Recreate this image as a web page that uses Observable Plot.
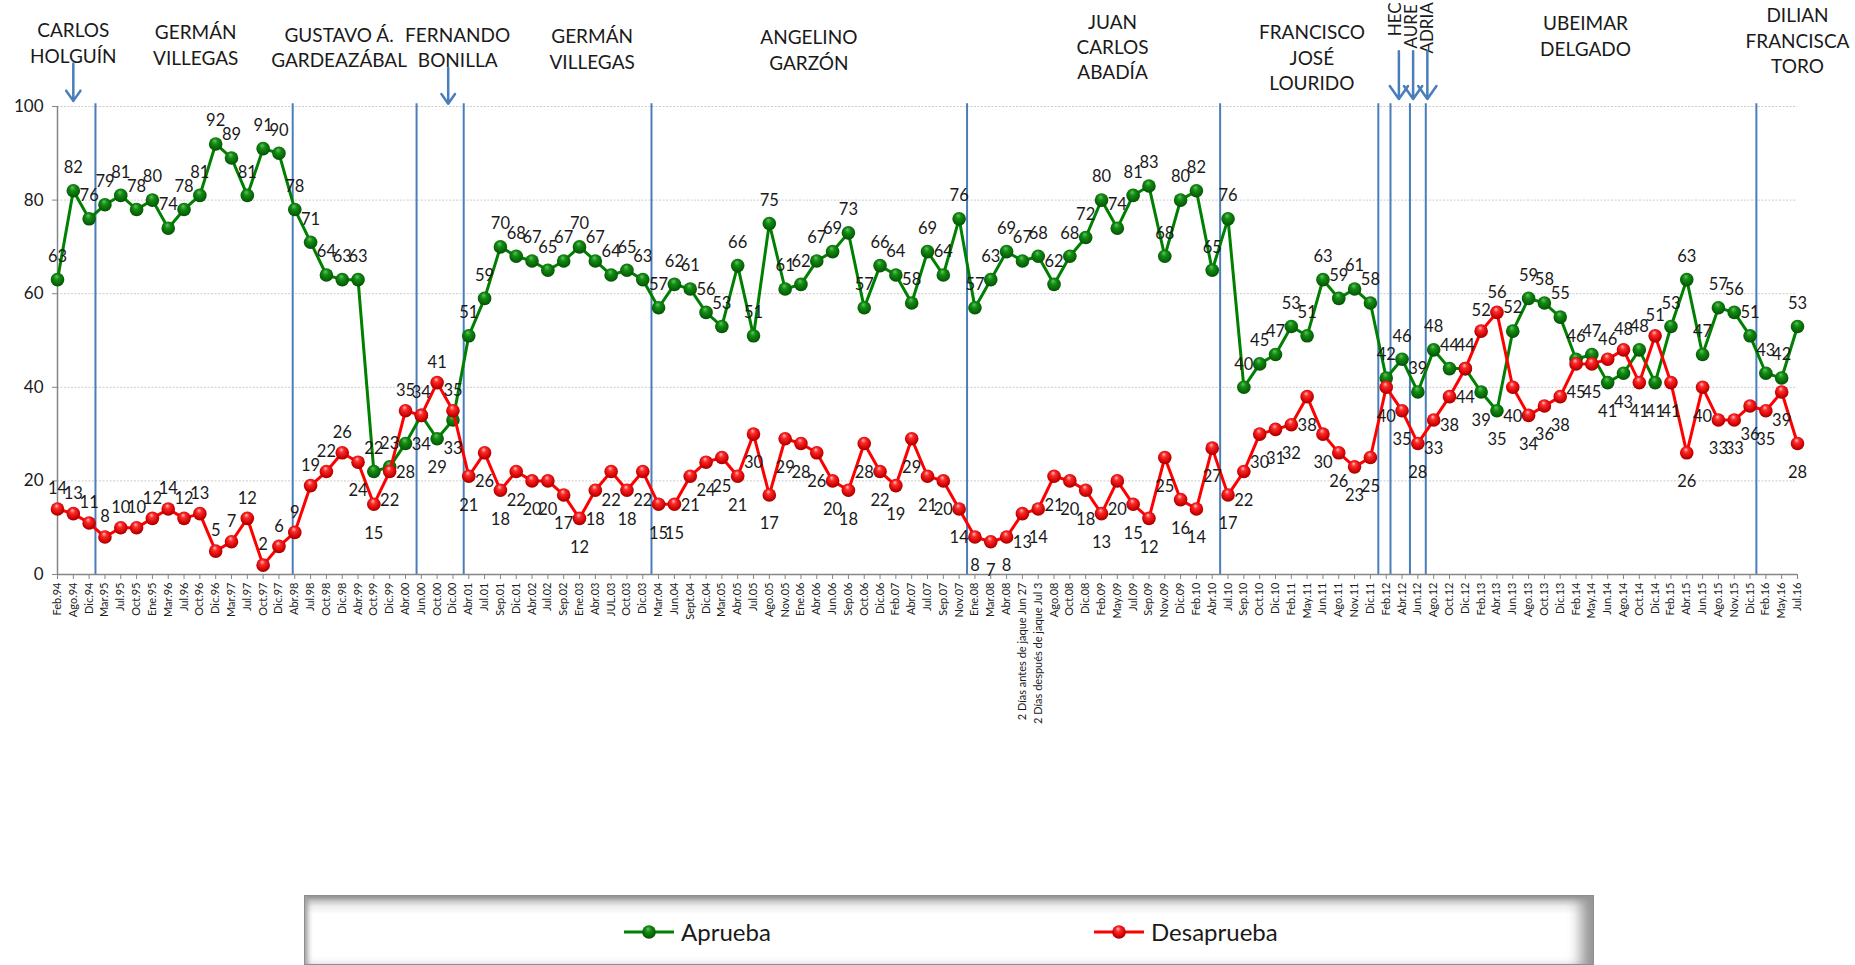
<!DOCTYPE html>
<html lang="es">
<head>
<meta charset="utf-8">
<title>Aprobación de gobernadores del Valle</title>
<script src="https://cdn.jsdelivr.net/npm/d3@7"></script>
<script src="https://cdn.jsdelivr.net/npm/@observablehq/plot@0.6"></script>
<style>
  html, body { margin: 0; padding: 0; background: #fff; overflow: hidden; }
  body { font-family: Lato, "Open Sans", sans-serif; color: #1a1a1a; }
  #marco { position: relative; width: 1855px; height: 965px; overflow: hidden; }
  #leyenda {
    position: absolute; left: 304px; top: 895px; width: 1290px; height: 70px;
    box-sizing: border-box; border: 1px solid #8e8e8e;
    background: linear-gradient(180deg, #8f8f8f 0px, #c8c8c8 5px, #ececec 10px, #ffffff 18px, #ffffff 100%);
    box-shadow: inset 6px 0 5px -3px #a0a0a0, inset -18px 0 14px -6px #959595;
  }
  .item { position: absolute; top: 24px; display: flex; align-items: center; height: 24px; }
  .item svg { display: block; margin-right: 6px; }
  .item span { font-size: 24px; line-height: 24px; color: #1a1a1a; }
</style>
</head>
<body>
<div id="marco">
  <div id="grafico"></div>
  <div id="leyenda">
    <div class="item" style="left:318px">
      <svg width="52" height="20"><line x1="1" y1="10" x2="51" y2="10" stroke="#008000" stroke-width="3"/><circle cx="26" cy="10" r="6.8" fill="url(#bolaVerde)"/></svg>
      <span>Aprueba</span>
    </div>
    <div class="item" style="left:788px">
      <svg width="52" height="20"><line x1="1" y1="10" x2="51" y2="10" stroke="#ff0000" stroke-width="3"/><circle cx="26" cy="10" r="6.8" fill="url(#bolaRoja)"/></svg>
      <span>Desaprueba</span>
    </div>
  </div>
</div>
<script>
// Fechas de cada encuesta (eje X)
const fechas = [
  "Feb.94","Ago.94","Dic.94","Mar.95","Jul.95","Oct.95","Ene.95","Mar.96","Jul.96","Oct.96","Dic.96","Mar.97","Jul.97","Oct.97","Dic.97","Abr.98","Jul.98","Oct.98","Dic.98","Abr.99","Oct.99","Dic.99","Abr.00",
  "Jun.00","Oct.00","Dic.00","Abr.01","Jul.01","Sep.01","Dic.01","Abr.02","Jul.02","Sep.02","Ene.03","Abr.03","JUL.03","Oct.03","Dic.03","Mar.04","Jun.04","Sept.04","Dic.04","Mar.05","Abr.05","Jul.05","Ago.05","Nov.05",
  "Ene.06","Abr.06","Jun.06","Sep.06","Oct.06","Dic.06","Feb.07","Abr.07","Jul.07","Sep.07","Nov.07","Ene.08","Mar.08","Abr.08","2 Días antes de jaque Jun 27","2 Días después de jaque Jul 3","Ago.08","Oct.08","Dic.08","Feb.09","May.09","Jul.09","Sep.09",
  "Nov.09","Dic.09","Feb.10","Abr.10","Jul.10","Sep.10","Oct.10","Dic.10","Feb.11","May.11","Jun.11","Ago.11","Nov.11","Dic.11","Feb.12","Abr.12","Jun.12","Ago.12","Oct.12","Dic.12","Feb.13","Abr.13","Jun.13","Ago.13",
  "Oct.13","Dic.13","Feb.14","May.14","Jun.14","Ago.14","Oct.14","Dic.14","Feb.15","Abr.15","Jun.15","Ago.15","Nov.15","Dic.15","Feb.16","May.16","Jul.16"
];

// Porcentaje que aprueba la gestión
const aprueba = [
  63,82,76,79,81,78,80,74,78,81,92,89,81,91,90,78,71,64,63,63,22,23,28,
  34,29,33,51,59,70,68,67,65,67,70,67,64,65,63,57,62,61,56,53,66,51,75,61,
  62,67,69,73,57,66,64,58,69,64,76,57,63,69,67,68,62,68,72,80,74,81,83,
  68,80,82,65,76,40,45,47,53,51,63,59,61,58,42,46,39,48,44,44,39,35,52,59,
  58,55,46,47,41,43,48,41,53,63,47,57,56,51,43,42,53
];

// Porcentaje que desaprueba la gestión
const desaprueba = [
  14,13,11,8,10,10,12,14,12,13,5,7,12,2,6,9,19,22,26,24,15,22,35,
  34,41,35,21,26,18,22,20,20,17,12,18,22,18,22,15,15,21,24,25,21,30,17,29,
  28,26,20,18,28,22,19,29,21,20,14,8,7,8,13,14,21,20,18,13,20,15,12,
  25,16,14,27,17,22,30,31,32,38,30,26,23,25,40,35,28,33,38,44,52,56,40,34,
  36,38,45,45,46,48,41,51,41,26,40,33,33,36,35,39,28
];

// Cambios de gobernador (posición entre encuestas)
const cambios = [2.4, 14.87, 22.7, 25.68, 37.55, 57.5, 73.5, 83.5, 84.27, 85.5, 86.5, 107.4];

// Gobernadores y su ubicación sobre el gráfico
const gobernadores = [
  {nombre: "CARLOS\nHOLGUÍN", x: 1.0, y: 118.6},
  {nombre: "GERMÁN\nVILLEGAS", x: 8.74, y: 118.2},
  {nombre: "GUSTAVO Á.\nGARDEAZÁBAL", x: 17.8, y: 117.7},
  {nombre: "FERNANDO\nBONILLA", x: 25.3, y: 117.7},
  {nombre: "GERMÁN\nVILLEGAS", x: 33.8, y: 117.3},
  {nombre: "ANGELINO\nGARZÓN", x: 47.5, y: 117.1},
  {nombre: "JUAN\nCARLOS\nABADÍA", x: 66.7, y: 120.5},
  {nombre: "FRANCISCO\nJOSÉ\nLOURIDO", x: 79.3, y: 118.2},
  {nombre: "UBEIMAR\nDELGADO", x: 96.6, y: 120.1},
  {nombre: "DILIAN\nFRANCISCA\nTORO", x: 110, y: 121.8}
];

// Encargados de corta duración (texto vertical junto al borde superior)
const encargados = [
  {nombre: "HEC", x: 84.6, y: 115.0},
  {nombre: "AURE", x: 85.6, y: 112.4},
  {nombre: "ADRIA", x: 86.6, y: 111.3}
];

// Flechas que señalan a los gobernadores
const flechas = [
  {x: 1.0, desde: 109.2, hasta: 101.2},
  {x: 24.7, desde: 108.2, hasta: 100.6},
  {x: 84.8, desde: 111.8, hasta: 101.6},
  {x: 85.7, desde: 111.8, hasta: 101.6},
  {x: 86.6, desde: 111.8, hasta: 101.6}
];

const filas = fechas.map((f, i) => ({i, fecha: f, aprueba: aprueba[i], desaprueba: desaprueba[i]}));
const rojoArriba = r => r.desaprueba > r.aprueba || r.i < 19;
const verdeAbajo = r => r.desaprueba > r.aprueba;

const azul = "#4a7ebb";
const gris = "#868686";
const etiqueta = {fontSize: 16.5, fill: "#1a1a1a"};

const chart = Plot.plot({
  width: 1855,
  height: 895,
  marginLeft: 57,
  marginRight: 58,
  marginTop: 106,
  marginBottom: 321,
  x: {type: "linear", domain: [0, fechas.length - 1]},
  y: {domain: [0, 100]},
  style: {fontFamily: "Lato, 'Open Sans', sans-serif", color: "#1a1a1a", background: "white", overflow: "visible"},
  marks: [
    Plot.gridY([20, 40, 60, 80, 100], {stroke: "#cccccc", strokeOpacity: 1, strokeDasharray: "2,1.5"}),
    Plot.ruleX(cambios, {y1: 0, y2: 100.6, stroke: azul, strokeWidth: 2}),
    Plot.ruleX([0], {stroke: gris, strokeWidth: 1.5}),
    Plot.ruleY([0], {stroke: gris, strokeWidth: 1.5}),
    Plot.axisY({ticks: [0, 20, 40, 60, 80, 100], tickSize: 5, tickPadding: 9, fontSize: 17, stroke: gris, fill: "#1a1a1a"}),
    Plot.axisX({ticks: d3.range(fechas.length), tickFormat: i => fechas[i], tickRotate: -90, tickSize: 5, tickPadding: 3, fontSize: 11, stroke: gris, fill: "#1a1a1a"}),

    Plot.line(filas, {x: "i", y: "aprueba", stroke: "#008000", strokeWidth: 3}),
    Plot.dot(filas, {x: "i", y: "aprueba", r: 6.8, fill: "url(#bolaVerde)"}),
    Plot.line(filas, {x: "i", y: "desaprueba", stroke: "#ff0000", strokeWidth: 3}),
    Plot.dot(filas, {x: "i", y: "desaprueba", r: 6.8, fill: "url(#bolaRoja)"}),

    Plot.text(filas.filter(r => !verdeAbajo(r)), {x: "i", y: "aprueba", text: "aprueba", dy: -23, ...etiqueta}),
    Plot.text(filas.filter(verdeAbajo), {x: "i", y: "aprueba", text: "aprueba", dy: 29, ...etiqueta}),
    Plot.text(filas.filter(rojoArriba), {x: "i", y: "desaprueba", text: "desaprueba", dy: -20, ...etiqueta}),
    Plot.text(filas.filter(r => !rojoArriba(r)), {x: "i", y: "desaprueba", text: "desaprueba", dy: 29, ...etiqueta}),

    Plot.text(gobernadores, {x: "x", y: "y", text: "nombre", lineAnchor: "top", lineHeight: 1.33, fontSize: 19, fill: "#1a1a1a"}),
    Plot.text(encargados, {x: "x", y: "y", text: "nombre", rotate: -90, textAnchor: "start", lineAnchor: "middle", fontSize: 17, fill: "#1a1a1a"}),
    Plot.arrow(flechas, {x1: "x", x2: "x", y1: "desde", y2: "hasta", stroke: azul, strokeWidth: 2.5, headLength: 16, headAngle: 70})
  ]
});

// Degradados que dan volumen a los marcadores
const defs = d3.select(chart).insert("defs", ":first-child");
const bola = (id, stops) => {
  const g = defs.append("radialGradient").attr("id", id)
    .attr("cx", "50%").attr("cy", "45%").attr("r", "60%").attr("fx", "42%").attr("fy", "25%");
  stops.forEach(([o, c]) => g.append("stop").attr("offset", o).attr("stop-color", c));
};
bola("bolaVerde", [["0%", "#63c463"], ["35%", "#138c13"], ["80%", "#066006"], ["100%", "#034503"]]);
bola("bolaRoja", [["0%", "#ffc0c0"], ["30%", "#ff2a2a"], ["78%", "#c80000"], ["100%", "#860000"]]);

document.getElementById("grafico").appendChild(chart);
</script>
</body>
</html>
